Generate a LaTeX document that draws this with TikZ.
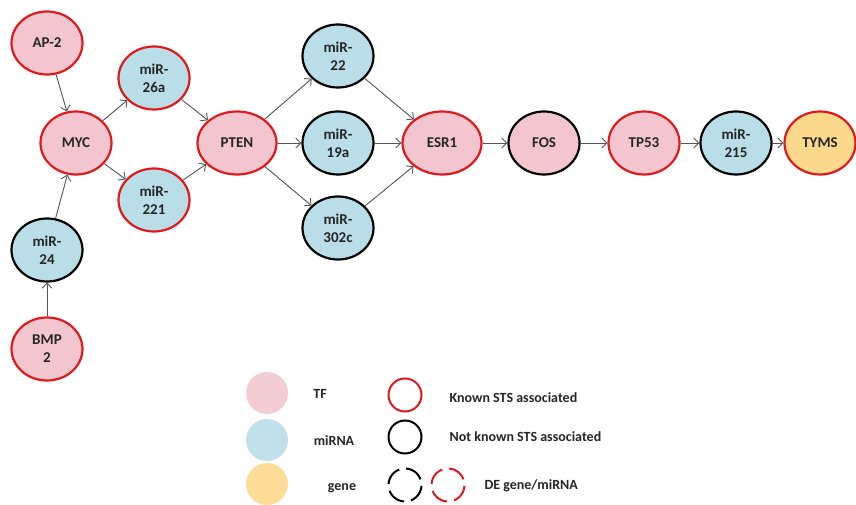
\documentclass[tikz,border=0pt]{standalone}
\usepackage{fontspec}
\setmainfont{Carlito}
\usetikzlibrary{shapes.geometric,arrows.meta}
\definecolor{tfpink}{HTML}{F3C6CF}
\definecolor{mirblue}{HTML}{B9DEE8}
\definecolor{genegold}{HTML}{FBD98C}
\definecolor{knownred}{HTML}{E0191D}
\definecolor{arrowgray}{HTML}{555555}
\tikzset{
  nd/.style={ellipse, line width=2.2pt, minimum width=71pt, minimum height=63pt, inner sep=0pt,
     align=center, font=\fontsize{15}{18}\selectfont\bfseries, text=black!85},
  tf/.style={nd, fill=tfpink},
  mir/.style={nd, fill=mirblue},
  gene/.style={nd, fill=genegold},
  known/.style={draw=knownred},
  unknown/.style={draw=black},
  wide/.style={minimum width=79pt},
  arr/.style={draw=arrowgray, line width=0.9pt, -{Straight Barb[length=5pt,width=10pt]}},
  legdot/.style={circle, minimum size=42pt, inner sep=0pt},
  legring/.style={circle, minimum size=33pt, inner sep=0pt, line width=2pt},
  legtxt/.style={font=\fontsize{14}{16}\selectfont\bfseries, text=black!85}
}
\begin{document}
\begin{tikzpicture}[x=1pt,y=-1pt]
\useasboundingbox (0,0) rectangle (856,505);
% nodes
\node[tf,known] (ap2) at (47,43) {AP-2};
\node[tf,known] (myc) at (76,143) {MYC};
\node[mir,known] (m26a) at (154,78) {miR-\\26a};
\node[mir,known] (m221) at (154,200) {miR-\\221};
\node[tf,known,wide] (pten) at (237,143) {PTEN};
\node[mir,unknown] (m24) at (47,250) {miR-\\24};
\node[tf,known] (bmp2) at (47,349) {BMP\\2};
\node[mir,unknown] (m22) at (338,56) {miR-\\22};
\node[mir,unknown] (m19a) at (338,143) {miR-\\19a};
\node[mir,unknown] (m302c) at (338,228) {miR-\\302c};
\node[tf,known,wide] (esr1) at (442,143) {ESR1};
\node[tf,unknown] (fos) at (544,143) {FOS};
\node[tf,known] (tp53) at (644,143) {TP53};
\node[mir,unknown] (m215) at (736,143) {miR-\\215};
\node[gene,known] (tyms) at (820,143) {TYMS};
% edges
\draw[arr] (ap2) -- (myc);
\draw[arr] (m24) -- (myc);
\draw[arr] (bmp2) -- (m24);
\draw[arr] (myc) -- (m26a);
\draw[arr] (myc) -- (m221);
\draw[arr] (m26a) -- (pten);
\draw[arr] (m221) -- (pten);
\draw[arr] (pten) -- (m22);
\draw[arr] (pten) -- (m19a);
\draw[arr] (pten) -- (m302c);
\draw[arr] (m22) -- (esr1);
\draw[arr] (m19a) -- (esr1);
\draw[arr] (m302c) -- (esr1);
\draw[arr] (esr1) -- (fos);
\draw[arr] (fos) -- (tp53);
\draw[arr] (tp53) -- (m215);
\draw[arr] (m215) -- (tyms);
% legend
\node[legdot, fill=tfpink!90] (lg1) at (267,393) {};
\node[legdot, fill=mirblue!90] (lg2) at (267,440) {};
\node[legdot, fill=genegold!90] (lg3) at (267,484) {};
\node[legtxt] (lt1) at (320,394) {TF};
\node[legtxt] (lt2) at (334,441) {miRNA};
\node[legtxt] (lt3) at (342,488) {gene};
\node[legring, draw=knownred] (lr1) at (405,395) {};
\node[legring, draw=black] (lr2) at (405,437) {};
\node[legring, draw=black, dash pattern=on 19pt off 7pt, rotate=20] (lr3) at (405,485) {};
\node[legring, draw=knownred, dash pattern=on 19pt off 7pt, rotate=20] (lr4) at (448,485) {};
\node[legtxt, anchor=west] (ln1) at (446,398) {Known STS associated};
\node[legtxt, anchor=west] (ln2) at (446,437) {Not known STS associated};
\node[legtxt, anchor=west] (ln3) at (481,486) {DE gene/miRNA};
\end{tikzpicture}
\end{document}
